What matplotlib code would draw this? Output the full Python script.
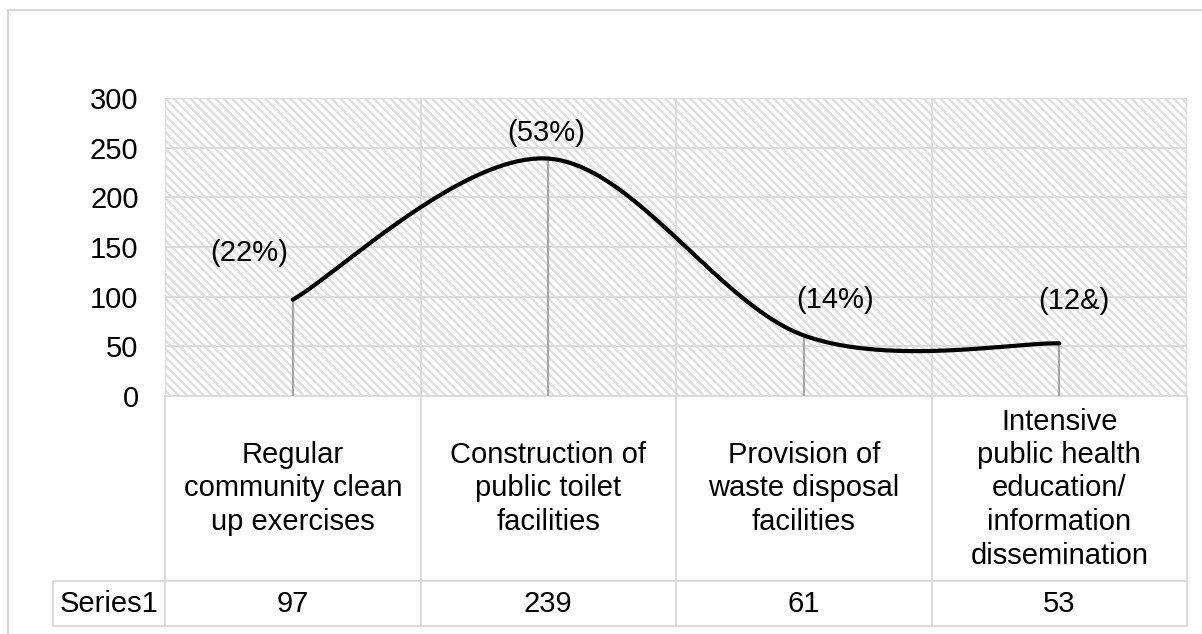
import matplotlib
matplotlib.use('Agg')
import matplotlib.pyplot as plt
import numpy as np
from matplotlib.patches import Rectangle
from matplotlib.lines import Line2D

plt.rcParams['font.family'] = ['Liberation Sans', 'DejaVu Sans']
plt.rcParams['hatch.linewidth'] = 1.8

# data
categories = ['Regular\ncommunity clean\nup exercises',
              'Construction of\npublic toilet\nfacilities',
              'Provision of\nwaste disposal\nfacilities',
              'Intensive\npublic health\neducation/\ninformation\ndissemination']
values = [97, 239, 61, 53]
point_labels = ['(22%)', '(53%)', '(14%)', '(12&)']
series_name = 'Series1'
yticks = [0, 50, 100, 150, 200, 250, 300]

# label offsets in pixels (x, y up)
label_offsets = [(-44, 47), (-2, 26), (31, 35), (15, 42)]

FS = 21


def smooth(xs, ys, steps=80):
    # bezier smoothing through every point, control points from neighbours
    pts = np.column_stack([xs, ys]).astype(float)
    ext = np.vstack([pts[0], pts, pts[-1]])
    t = np.linspace(0, 1, steps)[:, None]
    out = []
    for i in range(len(pts) - 1):
        p0, p1, p2, p3 = ext[i], ext[i + 1], ext[i + 2], ext[i + 3]
        c1 = p1 + (p2 - p0) / 6
        c2 = p2 - (p3 - p1) / 6
        seg = (1 - t) ** 3 * p1 + 3 * (1 - t) ** 2 * t * c1 + 3 * (1 - t) * t ** 2 * c2 + t ** 3 * p2
        out.append(seg)
    return np.vstack(out)


W, H = 1202, 634
fig = plt.figure(figsize=(W / 100, H / 100), dpi=100)
ax = fig.add_axes([165 / W, 1 - 396 / H, 1022 / W, 298 / H])

x = np.arange(len(values))
ax.set_xlim(-0.5, len(values) - 0.5)
ax.set_ylim(0, 300)

# hatched plot area
ax.add_patch(Rectangle((0, 0), 1, 1, transform=ax.transAxes, facecolor='white',
                       edgecolor='#e0e0e0', hatch='\\\\\\\\', lw=0, zorder=0))

ax.set_yticks(yticks)
ax.set_xticks([])
ax.set_xticks(np.arange(len(values) + 1) - 0.5, minor=True)
ax.grid(axis='y', color='#d9d9d9', lw=1.3, zorder=1)
ax.grid(axis='x', which='minor', color='#d9d9d9', lw=1.3, zorder=1)
ax.set_axisbelow(True)
ax.tick_params(axis='y', length=0, pad=19, labelsize=FS)
ax.tick_params(axis='x', which='both', length=0, labelbottom=False)
for s in ax.spines.values():
    s.set_visible(False)

# drop lines and smoothed line
ax.vlines(x, 0, values, color='#a6a6a6', lw=1.6, zorder=2)
curve = smooth(x, values)
ax.plot(curve[:, 0], curve[:, 1], color='black', lw=3, solid_capstyle='round',
        zorder=3, clip_on=False)

for i, (v, lbl) in enumerate(zip(values, point_labels)):
    ax.annotate(lbl, (i, v), xytext=label_offsets[i], textcoords='offset pixels',
                ha='center', va='center', fontsize=FS, zorder=4)

# data table under the axis; first column holds the series name
left = (53 - 165) / 1022
tbl = ax.table(cellText=[[series_name] + [str(v) for v in values]],
               colLabels=[''] + categories, cellLoc='center', colLoc='center',
               bbox=[left, (396 - 626) / 298, 1 - left, 230 / 298])
tbl.auto_set_font_size(False)
tbl.set_fontsize(FS)
for (r, c), cell in tbl.get_celld().items():
    cell.set_edgecolor('#d9d9d9')
    cell.set_linewidth(1.3)
    cell.set_height(185 if r == 0 else 45)
    cell.set_width(112 if c == 0 else 255.5)
    cell.get_text().set_fontsize(FS)
    cell.get_text().set_linespacing(1.25)
tbl[0, 0].visible_edges = ''

# chart area border
fig.add_artist(Line2D([8 / W, 8 / W], [0, 1 - 10 / H], transform=fig.transFigure,
                      color='#d9d9d9', lw=1.5))
fig.add_artist(Line2D([8 / W, 1], [1 - 10 / H, 1 - 10 / H], transform=fig.transFigure,
                      color='#d9d9d9', lw=1.5))

fig.savefig('out.png', dpi=100)
